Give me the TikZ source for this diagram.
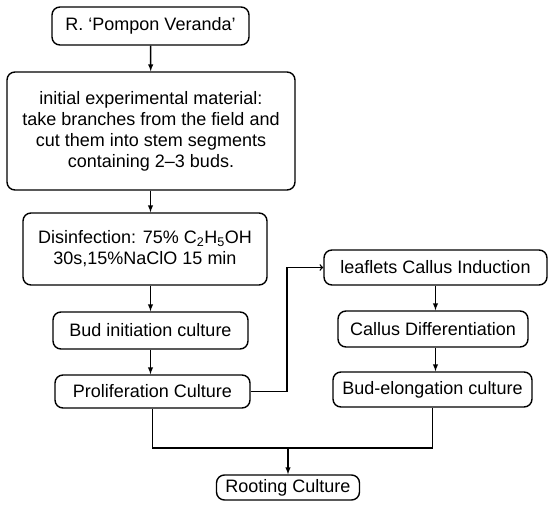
\documentclass[tikz,border=0pt]{standalone}
\usepackage{fontspec}
\setmainfont{Liberation Sans}
\usetikzlibrary{arrows}

\tikzset{
    stage/.style={draw, rounded corners=8pt, line width=1.4pt, align=center,
        inner sep=0pt, font=\fontsize{18}{21}\selectfont},
    flow/.style={line width=1.4pt},
}

\begin{document}
\begin{tikzpicture}[x=1pt,y=1pt]
    \useasboundingbox (0,0) rectangle (550,-506);
    % left column
    \node[stage, minimum width=197pt, minimum height=38pt] (cult) at (150.5,-26) {R. `Pompon Veranda'};
    \node[stage, minimum width=288pt, minimum height=118pt] (mat) at (151,-131)
        {initial experimental material:\\take branches from the field and\\cut them into stem segments\\containing 2--3 buds.};
    \node[stage, minimum width=244pt, minimum height=72pt] (dis) at (145,-249)
        {Disinfection: 75\% C\textsubscript{2}H\textsubscript{5}OH\\30s,15\%NaClO 15 min};
    \node[stage, minimum width=195pt, minimum height=37pt] (init) at (150.5,-330.5) {Bud initiation culture};
    \node[stage, minimum width=195pt, minimum height=33pt] (prolif) at (152.5,-391.5) {Proliferation Culture};
    % right column
    \node[stage, minimum width=223pt, minimum height=35pt] (leaf) at (435.5,-267.5) {leaflets Callus Induction};
    \node[stage, minimum width=190pt, minimum height=36pt] (diff) at (433,-329) {Callus Differentiation};
    \node[stage, minimum width=199pt, minimum height=35pt] (elong) at (432.5,-389.5) {Bud-elongation culture};
    % bottom
    \node[stage, minimum width=143pt, minimum height=25pt] (root) at (288,-487.5) {Rooting Culture};
    \coordinate (turn) at (287,-267.5);
    \coordinate (join) at (288,-448);

    \draw[flow,-latex] (cult) -- (mat);
    \draw[flow,-latex] (mat.south-|cult) -- (dis.north-|cult);
    \draw[flow,-latex] (dis.south-|cult) -- (init);
    \draw[flow,-latex] (init) -- (prolif.north-|init);
    \draw[flow,->] (prolif.east) -| (turn) -- (leaf.west);
    \draw[flow,-latex] (leaf) -- (diff.north-|leaf);
    \draw[flow,-latex] (diff.south-|leaf) -- (elong.north-|leaf);
    \draw[flow] (prolif.south) |- (join);
    \draw[flow] (elong.south) |- (join);
    \draw[flow,-latex] (join) -- (root);
\end{tikzpicture}
\end{document}
